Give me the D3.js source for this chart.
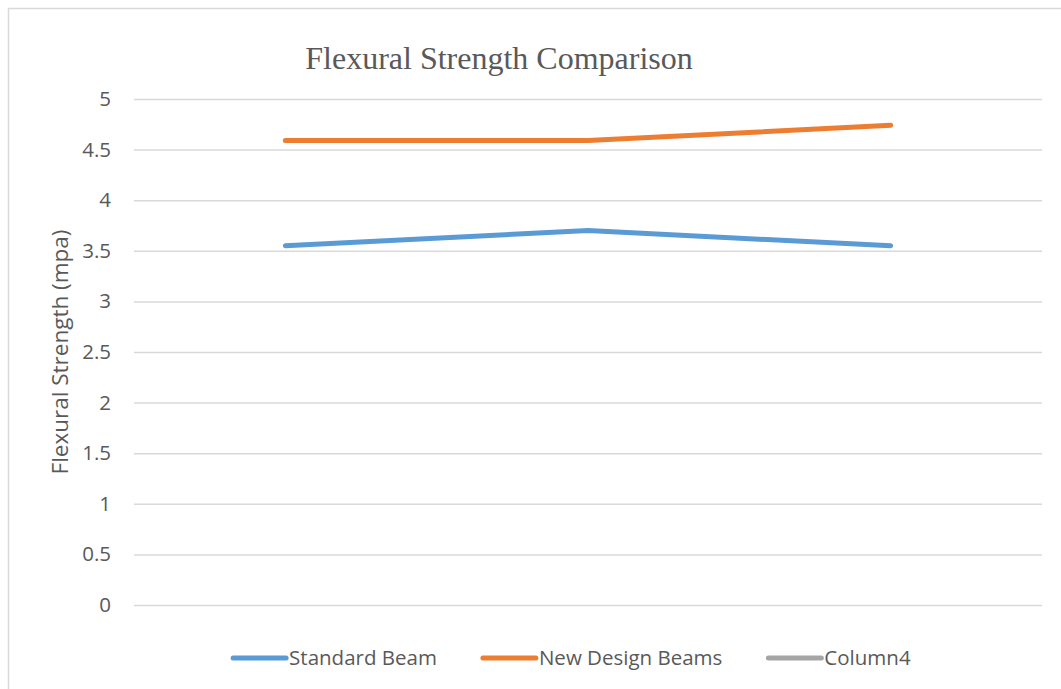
<!DOCTYPE html>
<html>
<head>
<meta charset="utf-8">
<script src="https://d3js.org/d3.v7.min.js"></script>
<style>
  body { margin: 0; background: #fff; }
  svg { display: block; }
</style>
</head>
<body>
<div id="chart"></div>
<script>
const categories = ["1", "2", "3"];
const standardBeam = [3.55, 3.70, 3.55];
const newDesignBeams = [4.59, 4.59, 4.74];
const column4 = [];
const yTicks = [0, 0.5, 1, 1.5, 2, 2.5, 3, 3.5, 4, 4.5, 5];

const series = [
    { name: "Standard Beam", values: standardBeam, color: "#5b9bd5" },
    { name: "New Design Beams", values: newDesignBeams, color: "#ed7d31" },
    { name: "Column4", values: column4, color: "#a5a5a5" }
];

const width = 1061, height = 689;
const margin = { top: 99, right: 19, bottom: 84, left: 134 };
const font = "'Open Sans', sans-serif";

const svg = d3.select("#chart").append("svg")
    .attr("width", width)
    .attr("height", height);

// outer chart border (right/bottom run off the page)
svg.append("rect")
    .attr("x", 8.5).attr("y", 8.5)
    .attr("width", width + 20).attr("height", height + 20)
    .attr("fill", "none")
    .attr("stroke", "#d9d9d9")
    .attr("stroke-width", 1.5);

const x = d3.scaleBand()
    .domain(categories)
    .range([margin.left, width - margin.right]);

const y = d3.scaleLinear()
    .domain([0, 5])
    .range([height - margin.bottom, margin.top]);

// gridlines + tick labels
const yAxis = svg.append("g")
    .attr("transform", `translate(${margin.left},0)`)
    .call(d3.axisLeft(y)
        .tickValues(yTicks)
        .tickSize(-(width - margin.left - margin.right))
        .tickPadding(23)
        .tickFormat(d => d3.format("")(d)));

yAxis.select(".domain").remove();
yAxis.selectAll(".tick line")
    .attr("stroke", "#d9d9d9")
    .attr("stroke-width", 1.5);
yAxis.selectAll(".tick text")
    .attr("fill", "#595959")
    .style("font-family", font)
    .style("font-size", "20.5px");

// y axis title
svg.append("text")
    .attr("transform", `translate(60,${(margin.top + height - margin.bottom) / 2}) rotate(-90)`)
    .attr("text-anchor", "middle")
    .attr("dy", "0.35em")
    .attr("fill", "#595959")
    .style("font-family", font)
    .style("font-size", "22.5px")
    .text("Flexural Strength (mpa)");

// title
svg.append("text")
    .attr("x", 499)
    .attr("y", 69)
    .attr("text-anchor", "middle")
    .attr("fill", "#595959")
    .style("font-family", "'Liberation Serif', 'Times New Roman', serif")
    .style("font-size", "32px")
    .text("Flexural Strength Comparison");

// lines
const line = d3.line()
    .x((d, i) => x(categories[i]) + x.bandwidth() / 2)
    .y(d => y(d));

svg.append("g")
    .selectAll("path")
    .data(series.filter(s => s.values.length))
    .join("path")
    .attr("d", d => line(d.values))
    .attr("fill", "none")
    .attr("stroke", d => d.color)
    .attr("stroke-width", 5)
    .attr("stroke-linecap", "round")
    .attr("stroke-linejoin", "round");

// legend, laid out from measured text widths
const legend = svg.append("g");
const items = legend.selectAll("g")
    .data(series)
    .join("g");

items.append("line")
    .attr("x1", 2).attr("x2", 55)
    .attr("y1", 0).attr("y2", 0)
    .attr("stroke", d => d.color)
    .attr("stroke-width", 5)
    .attr("stroke-linecap", "round");

items.append("text")
    .attr("x", 58)
    .attr("y", 0)
    .attr("dy", "0.35em")
    .attr("fill", "#595959")
    .style("font-family", font)
    .style("font-size", "20.5px")
    .text(d => d.name);

const gap = 46;
let cursor = 0;
items.each(function () {
    const w = this.getBBox().width;
    d3.select(this).attr("transform", `translate(${cursor},0)`);
    cursor += w + gap;
});
const total = cursor - gap;
legend.attr("transform", `translate(${570 - total / 2},658)`);
</script>
</body>
</html>
